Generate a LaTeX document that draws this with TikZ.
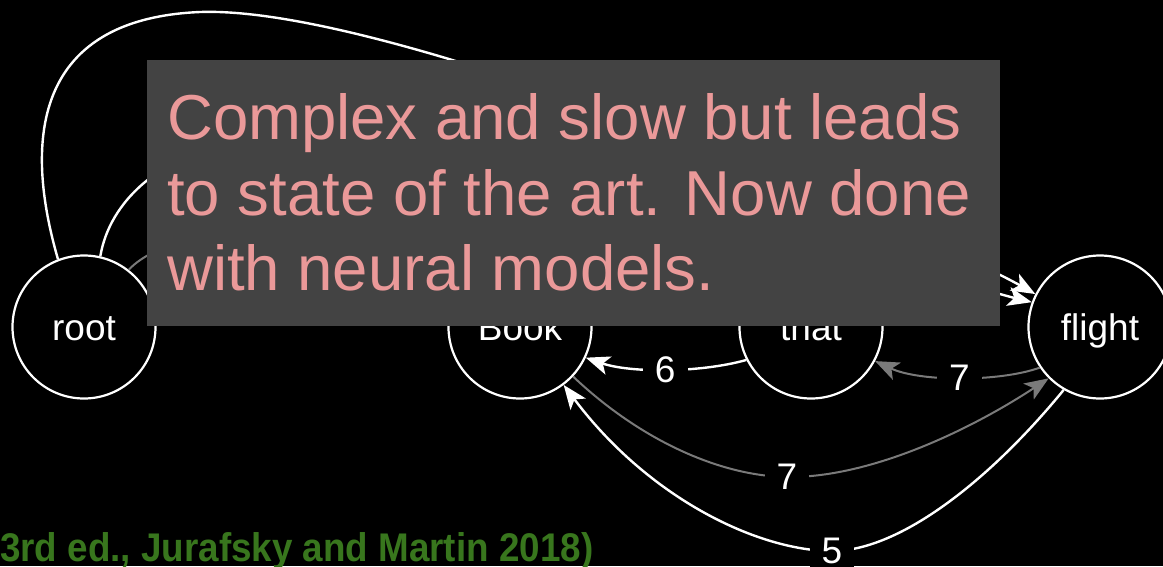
\documentclass[tikz,border=0pt]{standalone}
\usepackage{fontspec}
\setmainfont{Liberation Sans}
\newfontfamily\citefont{Liberation Sans}[FakeStretch=0.92]
\usetikzlibrary{arrows.meta}
\definecolor{boxgray}{HTML}{434343}
\definecolor{pinktext}{HTML}{EA9999}
\definecolor{citegreen}{HTML}{38761D}
\definecolor{edgegray}{HTML}{7A7A7A}
\begin{document}
\begin{tikzpicture}[x=1pt,y=1pt,
  wordnode/.style={circle, draw=white, line width=2.2pt, minimum size=143pt, inner sep=0pt,
    text=white, font=\fontsize{37}{40}\selectfont, text height=27pt, text depth=0pt},
  strongedge/.style={draw=white, line width=2.4pt, -{Stealth[length=24pt,width=19pt,inset=6pt]}},
  weakedge/.style={draw=edgegray, line width=2pt, -{Stealth[length=24pt,width=19pt,inset=6pt,fill=edgegray]}},
  wlabel/.style={fill=black, text=white, inner xsep=12pt, inner ysep=3pt, font=\fontsize{37}{40}\selectfont},
  slideline/.style={anchor=base west, inner sep=0pt, text=pinktext, font=\fontsize{63.5}{75}\selectfont}]
\fill[black] (0,0) rectangle (1163,-566);
\useasboundingbox (0,0) rectangle (1163,-566);

% words
\node[wordnode] (root) at (84,-327) {root};
\node[wordnode] (book) at (520,-327) {Book};
\node[wordnode] (that) at (811,-327) {that};
\node[wordnode] (flight) at (1100,-327) {flight};

% edges from root (mostly hidden by the box)
\draw[strongedge] (root.111) .. controls (35,-180) and (8,-20) .. (200,-12)
   .. controls (400,-5) and (940,-240) .. (flight.153);
\draw[strongedge] (root.77) .. controls (118,-150) and (300,-40) .. (that.110);
\draw[weakedge] (root.52) .. controls (180,-215) and (380,-215) .. (book.125);
\draw[strongedge] (that.35) .. controls (930,-270) and (990,-292) .. (flight.160);

% lower edges
\draw[strongedge] (that.207) .. controls (700,-373) and (630,-373) .. (book.335)
   node[wlabel, pos=0.5] (w6) {6};
\draw[weakedge] (flight.214) .. controls (1000,-382) and (920,-382) .. (that.332)
   node[wlabel, pos=0.5] (w7a) {7};
\draw[weakedge] (book.317) .. controls (640,-440) and (720,-476) .. (787,-477)
   node[wlabel] (w7b) {7}
   .. controls (870,-478) and (970,-430) .. (flight.225);
\draw[strongedge] (flight.240) .. controls (990,-480) and (900,-551) .. (832,-551)
   node[wlabel] (w5) {5}
   .. controls (760,-551) and (650,-500) .. (book.307);

% overlay box
\node[fill=boxgray, anchor=north west, minimum width=853pt, minimum height=266pt, inner sep=0pt]
   (box) at (147,-60) {};
\node[slideline] (line1) at (167,-139) {Complex and slow but leads};
\node[slideline] (line2) at (167,-215) {to state of the art. Now done};
\node[slideline] (line3) at (167,-290) {with neural models.};

% citation
\node[anchor=base west, inner sep=0pt, text=citegreen, font=\citefont\bfseries\fontsize{40}{42}\selectfont]
   (cite) at (0,-561) {3rd ed., Jurafsky and Martin 2018)};
\end{tikzpicture}
\end{document}
